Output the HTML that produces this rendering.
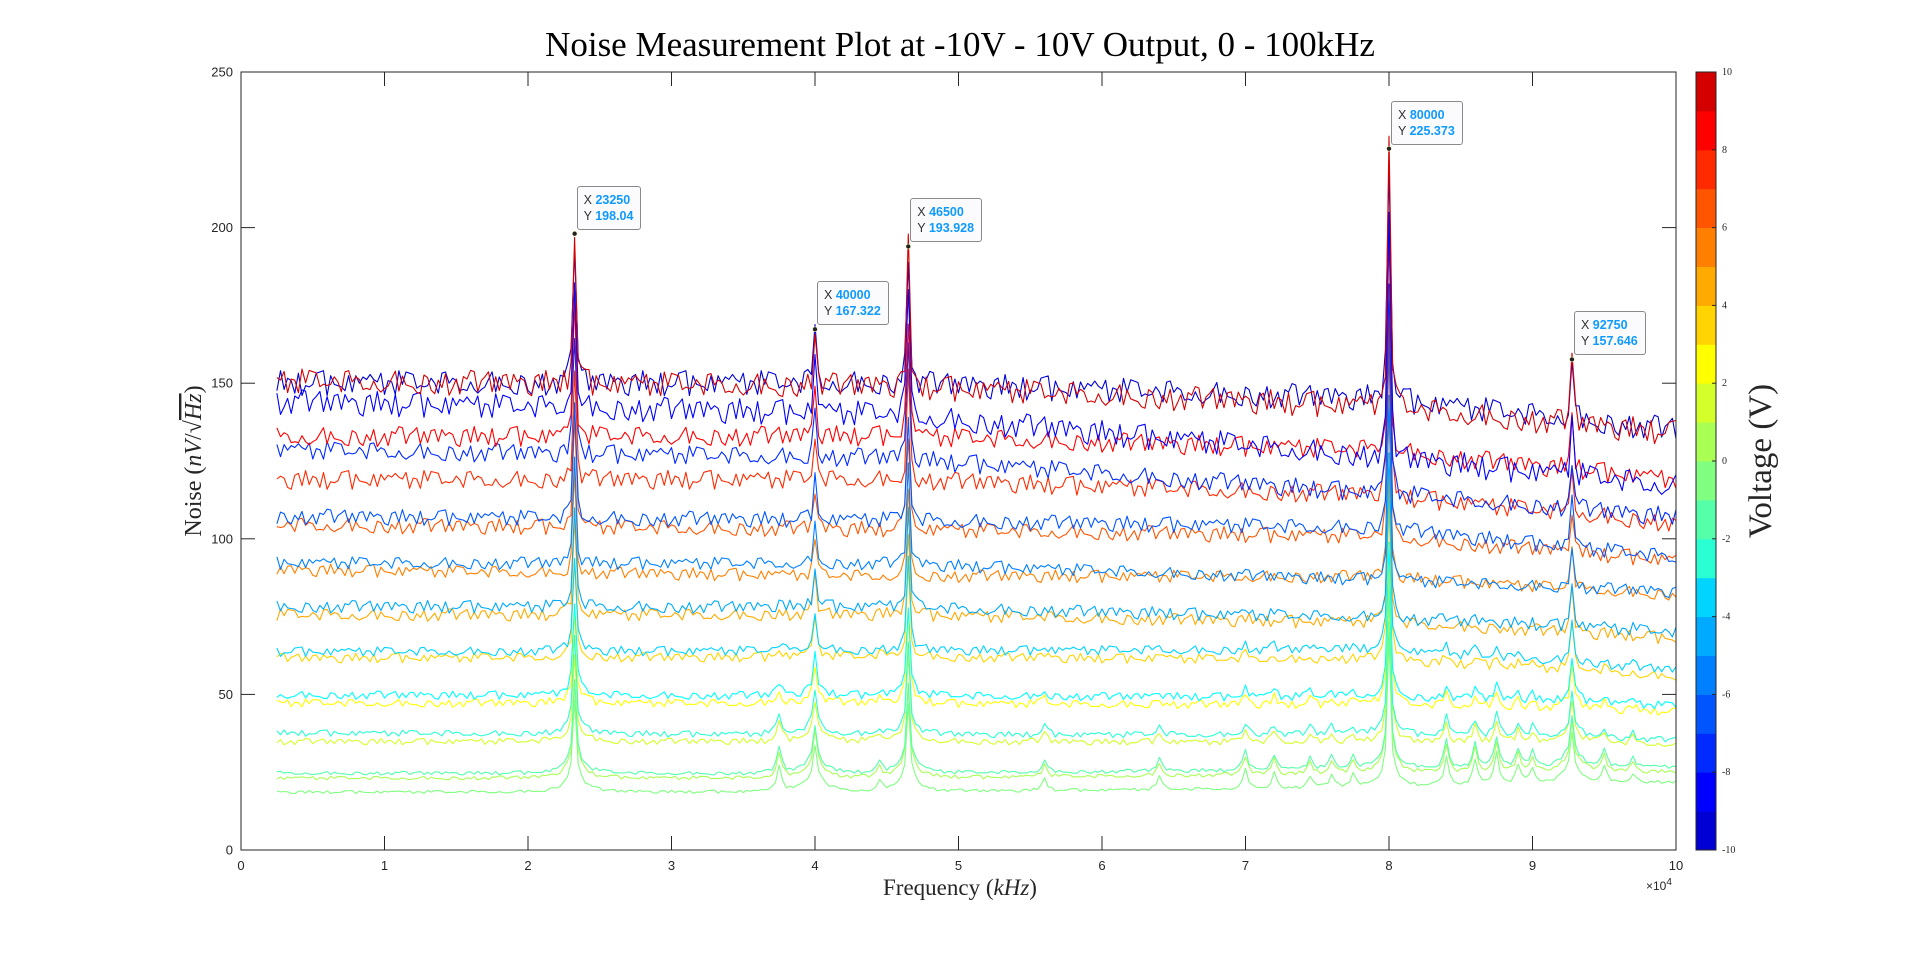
<!DOCTYPE html>
<html><head><meta charset="utf-8">
<style>
html,body{margin:0;padding:0;background:#fff;}
#wrap{position:relative;width:1920px;height:955px;overflow:hidden;background:#fff;}
svg{position:absolute;left:0;top:0;}
.tip{position:absolute;background:#fbfbfe;border:1px solid #8a8a8a;border-radius:3px;font:12.5px "Liberation Sans",sans-serif;color:#333;padding:5px 7px 5px 6px;line-height:16px;white-space:nowrap;}
.tip b{color:#0f9aff;}
</style></head>
<body>
<div id="wrap">
<svg id="chart" width="1920" height="955"></svg>
</div>
<script>
// ---- data ----
const voltages = [10,-10,-9,9,-8,8,-7,7,-6,6,-5,5,-4,4,-3,3,-2,2,-1,1,0];
const lineColors = ["#d40000","#0000d4","#0000ff","#ff0000","#002aff","#ff2a00","#0055ff","#ff5500","#0080ff","#ff8000","#00aaff","#ffaa00","#00d4ff","#ffd400","#00ffff","#ffff00","#2affd4","#d4ff2a","#55ffaa","#aaff55","#80ff80"];
const anchorX = [0.25, 4.5, 7.9, 10];
const baseAt025 = [150.6,150,144,132.8,128.5,118.9,107.1,104.4,92.2,90,78.2,75.5,63.7,61.6,49.8,47.2,37.6,34.8,24.7,23.1,18.6];
const baseAt45  = [149,150,140,133,126,119,106,103,92,88,78,75.5,64,62,49.5,47,37,34.8,24.5,23,18.6];
const baseAt79  = [142.5,145,126.4,128.5,114.7,114,103.5,100.7,86.8,87.8,74.5,72.9,64.3,61,49,46.5,37,34.5,26,24.5,20];
const baseAt10  = [134,135,117,119,107,105,94,93,83,82,70,68,57.8,55.7,46.3,44.4,35.3,34,26.7,25.1,21.9];
const noiseAmp  = [4,4,4,3.2,3,3,2.5,2.5,2,2,2,2,1.5,1.5,1.3,1.3,1,1,0.6,0.6,0.5];
const peakScale = [1,0.95,0.9,0.85,0.8,0.75,0.75,0.7,0.7,0.65,0.65,0.6,0.6,0.6,0.55,0.55,0.55,0.5,0.5,0.5,0.5];
const lowFactor = [0,0,0,0,0,0,0,0,0,0,0.15,0.15,0.3,0.3,0.5,0.5,0.7,0.7,1,1,1];
const peakX = [2.325, 4.0, 4.65, 8.0, 9.275];
const peakY = [198.04, 167.322, 193.928, 225.373, 157.646];
const tipX = ["23250","40000","46500","80000","92750"];
const tipY = ["198.04","167.322","193.928","225.373","157.646"];
const smallPeakX = [3.75,4.45,5.6,6.4,7.0,7.2,7.45,7.6,7.75,8.4,8.6,8.75,8.9,9.0,9.5,9.7];
const smallPeakA = [8,3,4,4,6,5,4,4,4,9,8,10,6,5,5,3];
const noise = [0.3,-0.8,0.5,1,-0.2,-0.9,0.7,0.1,-0.5,0.9,-1,0.4,0.2,-0.6,0.8,-0.3,-0.7,0.6,0,-0.4,1,-0.9,0.3,0.5,-0.1,-0.8,0.7,-0.5,0.2,0.9,-0.6,-0.2,0.8,-1,0.4,0.1,-0.7,0.6,-0.3,0.9,-0.4,0.2,-0.9,0.5,0.7,-0.6,0,0.3,-0.8,1,-0.2,-0.5,0.6,0.4,-0.9,0.8,-0.1,-0.3,0.7,-0.7,0.2,0.5,-1,0.9,-0.4,0.1,0.6,-0.6,0.3,-0.2,0.8,-0.8,0.4,0,-0.5,1,-0.3,0.7,-0.9,0.2,0.5,-0.6,0.9,-0.1,-0.4,0.6,-0.8,0.3,0.1,-0.7,0.8,-0.2,0.4,-1,0.7,-0.5,0.2,0.9,-0.3,-0.6,0.5];
const xTicks = [0,1,2,3,4,5,6,7,8,9,10];
const yTicks = [0,50,100,150,200,250];
const cbColors = ["#0000d4","#0000ff","#002aff","#0055ff","#0080ff","#00aaff","#00d4ff","#2affd4","#55ffaa","#80ff80","#aaff55","#d4ff2a","#ffff00","#ffd400","#ffaa00","#ff8000","#ff5500","#ff2a00","#ff0000","#d40000"];
const cbTicks = [-10,-8,-6,-4,-2,0,2,4,6,8,10];

// ---- layout ----
const L=241,R=1676,T=72,B=850;
const xs = v => L + v/10*(R-L);
const ys = v => B - v/250*(B-T);
const NS='http://www.w3.org/2000/svg';
const svg=document.getElementById('chart');
function mk(tag,attrs,parent){const e=document.createElementNS(NS,tag);for(const k in attrs)e.setAttribute(k,attrs[k]);(parent||svg).appendChild(e);return e;}

function baseVal(i,x){
  const v=[baseAt025[i],baseAt45[i],baseAt79[i],baseAt10[i]];
  for(let k=0;k<anchorX.length-1;k++){
    if(x<=anchorX[k+1]){const t=(x-anchorX[k])/(anchorX[k+1]-anchorX[k]);return v[k]+t*(v[k+1]-v[k]);}
  }
  return v[3];
}
function lor(x,x0,w){return w*w/((x-x0)*(x-x0)+w*w);}

// plot lines
const gLines=mk('g',{});


for(let i=voltages.length-1;i>=0;i--){
  let d='';
  let k=0;
  for(let f=2500;f<=100000;f+=250,k++){
    const x=f/1e4;
    let y=baseVal(i,x)+noiseAmp[i]*noise[(k*7+i*13)%noise.length];
    for(let p=0;p<peakX.length;p++){
      const amp=(peakY[p]-baseVal(0,peakX[p]))*peakScale[i];
      y+=amp*lor(x,peakX[p],0.011);
      y+=6*lowFactor[i]*lor(x,peakX[p],0.07);
    }
    for(let s=0;s<smallPeakX.length;s++){
      y+=smallPeakA[s]*lowFactor[i]*lor(x,smallPeakX[s],0.02);
    }
    d+=(k?'L':'M')+xs(x).toFixed(1)+' '+ys(y).toFixed(1);
  }
  const path=mk('path',{d:d,fill:'none',stroke:lineColors[i],'stroke-width':1.1,'stroke-linejoin':'round'},gLines);
  
  
}

// axes box
const box=mk('rect',{x:L,y:T,width:R-L,height:B-T,fill:'none',stroke:'#262626','stroke-width':1});


xTicks.forEach(v=>{
  const x=xs(v);
  mk('line',{x1:x,y1:B,x2:x,y2:B-14,stroke:'#262626'});
  mk('line',{x1:x,y1:T,x2:x,y2:T+14,stroke:'#262626'});
  const t=mk('text',{x:x,y:B+20,'text-anchor':'middle','font-family':'Liberation Sans, sans-serif','font-size':13,fill:'#262626'});
  t.textContent=v;
  
  
});
yTicks.forEach(v=>{
  const y=ys(v);
  mk('line',{x1:L,y1:y,x2:L+14,y2:y,stroke:'#262626'});
  mk('line',{x1:R,y1:y,x2:R-14,y2:y,stroke:'#262626'});
  const t=mk('text',{x:L-8,y:y+4.5,'text-anchor':'end','font-family':'Liberation Sans, sans-serif','font-size':13,fill:'#262626'});
  t.textContent=v;
  
  
});

// exponent
const ex=mk('text',{x:1646,y:890,'font-family':'Liberation Sans, sans-serif','font-size':12,fill:'#262626'});
ex.innerHTML='×10<tspan dy="-5" font-size="10">4</tspan>';



// titles
const title=mk('text',{x:960,y:56,'text-anchor':'middle','font-family':'Liberation Serif, serif','font-size':35,fill:'#000'});
title.textContent='Noise Measurement Plot at -10V - 10V Output, 0 - 100kHz';



const xl=mk('text',{x:960,y:895,'text-anchor':'middle','font-family':'Liberation Serif, serif','font-size':23,fill:'#262626'});
xl.innerHTML='Frequency (<tspan font-style="italic">kHz</tspan>)';



const yl=mk('text',{x:0,y:0,'text-anchor':'middle','font-family':'Liberation Serif, DejaVu Serif, serif','font-size':24,fill:'#262626',transform:'translate(201,461) rotate(-90)'});
yl.innerHTML='Noise (<tspan font-style="italic">nV</tspan>/√<tspan font-style="italic" text-decoration="overline">Hz</tspan>)';



// colorbar
const CL=1696,CR=1716;
const segH=(B-T)/cbColors.length;
cbColors.forEach((c,i)=>{
  const r=mk('rect',{x:CL,y:B-(i+1)*segH,width:CR-CL,height:segH+0.5,fill:c});
  
  
});
const cbb=mk('rect',{x:CL,y:T,width:CR-CL,height:B-T,fill:'none',stroke:'#262626'});


cbTicks.forEach(v=>{
  const y=B-(v+10)/20*(B-T);
  mk('line',{x1:CR,y1:y,x2:CR-4,y2:y,stroke:'#262626'});
  const t=mk('text',{x:CR+6,y:y+3,'font-family':'Liberation Serif, serif','font-size':10,fill:'#262626'});
  t.textContent=v;
  
  
});
const cbl=mk('text',{x:0,y:0,'text-anchor':'middle','font-family':'Liberation Serif, serif','font-size':33,fill:'#262626',transform:'translate(1771,461) rotate(-90)'});
cbl.textContent='Voltage (V)';



// datatips
const wrap=document.getElementById('wrap');
peakX.forEach((px,i)=>{
  const x=xs(px),y=ys(peakY[i]);
  const dot=mk('circle',{cx:x,cy:y,r:2.5,fill:'#222',stroke:'#ffffcc','stroke-width':0.6});
  
  
  const tip=document.createElement('div');
  tip.className='tip';
  tip.style.left=(x+2)+'px';
  tip.style.top=(y-48)+'px';
  tip.innerHTML='X <b>'+tipX[i]+'</b><br>Y <b>'+tipY[i]+'</b>';
  
  
  wrap.appendChild(tip);
});
</script>
</body></html>
